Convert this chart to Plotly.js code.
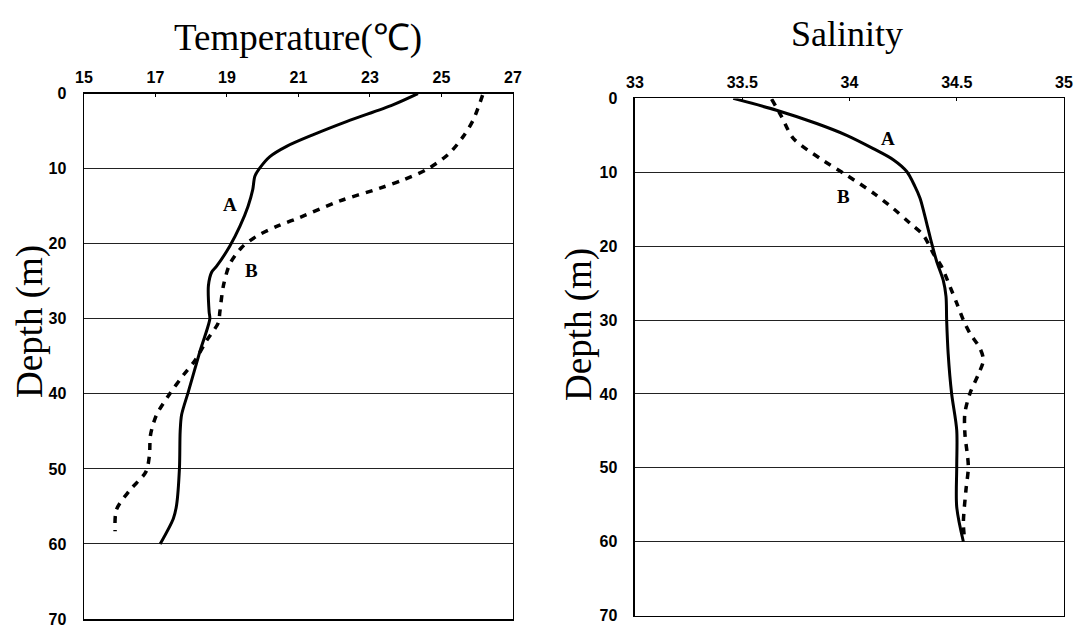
<!DOCTYPE html>
<html>
<head>
<meta charset="utf-8">
<script src="https://cdn.plot.ly/plotly-3.0.1.min.js"></script>
<style>html,body{margin:0;padding:0;background:#fff}#chart{width:1077px;height:628px}</style>
</head>
<body>
<div id="chart"></div>
<script>
// Temperature profiles
const depthTA = [0, 1.5, 3.7, 5.5, 7.0, 8.4, 9.9, 11, 12.8, 15, 17.7, 20.3, 23, 23.8, 25.6, 29.1, 30, 34.4, 39.7, 42.8, 45, 49.9, 54.8, 56.6, 60];
const tempA = [24.34, 23.64, 22.36, 21.4, 20.68, 20.2, 19.92, 19.78, 19.72, 19.59, 19.36, 19.08, 18.71, 18.57, 18.48, 18.5, 18.52, 18.24, 17.92, 17.73, 17.69, 17.67, 17.59, 17.5, 17.13];
const depthTB = [0.2, 3.5, 5.7, 8.1, 10.1, 11.5, 12.6, 14.3, 16.5, 17.7, 19, 20.5, 22.7, 25.6, 29.1, 30.5, 32.9, 35.6, 37.5, 40, 42.8, 45.5, 48.2, 50.4, 52.8, 55.4, 58.3];
const tempB = [26.15, 25.89, 25.61, 25.19, 24.59, 23.93, 23.28, 22.16, 21.04, 20.39, 19.83, 19.41, 19.08, 18.9, 18.8, 18.76, 18.43, 18.1, 17.78, 17.4, 17.03, 16.86, 16.83, 16.73, 16.29, 15.91, 15.87];
// Salinity profiles
const depthSA = [0, 1.6, 3.4, 5, 6.8, 8.3, 9.9, 11.9, 13.5, 16.9, 19.6, 22.1, 24.6, 26.8, 30, 34.5, 39.9, 44.9, 49.8, 55.3, 60];
const salA = [33.458, 33.66, 33.847, 33.987, 34.111, 34.204, 34.267, 34.305, 34.329, 34.36, 34.383, 34.407, 34.437, 34.45, 34.453, 34.46, 34.476, 34.5, 34.5, 34.5, 34.531];
const depthSB = [0.1, 2.5, 5.4, 8.1, 10.4, 12.8, 14.9, 16.9, 18.5, 21, 22.8, 25.5, 27.7, 30, 31.8, 33.8, 35.4, 37.4, 39.9, 42.6, 45.3, 49.8, 53, 57.5, 60];
const salB = [33.637, 33.684, 33.738, 33.862, 33.987, 34.111, 34.204, 34.282, 34.344, 34.391, 34.43, 34.469, 34.5, 34.531, 34.562, 34.608, 34.624, 34.6, 34.562, 34.538, 34.538, 34.554, 34.543, 34.531, 34.538];

const tempTicks = [15, 17, 19, 21, 23, 25, 27];
const salTicks = [33, 33.5, 34, 34.5, 35];
const depthTicks = [0, 10, 20, 30, 40, 50, 60, 70];
const tempTickText = ["15", "17", "19", "21", "23", "25", "27"];
const salTickText = ["33", "33.5", "34", "34.5", "35"];

const titles = ["Temperature(℃)", "Salinity"];
const yTitle = "Depth (m)";
const seriesNames = ["A", "B"];

const solid = {color: '#000', width: 3, shape: 'spline', smoothing: 0.85};
const dashed = {color: '#000', width: 3.5, dash: '7px,7px', shape: 'spline', smoothing: 0.85};

const traces = [
  {x: tempA, y: depthTA, mode: 'lines', line: solid, xaxis: 'x', yaxis: 'y', name: seriesNames[0]},
  {x: tempB, y: depthTB, mode: 'lines', line: dashed, xaxis: 'x', yaxis: 'y', name: seriesNames[1]},
  {x: salA, y: depthSA, mode: 'lines', line: solid, xaxis: 'x2', yaxis: 'y2', name: seriesNames[0]},
  {x: salB, y: depthSB, mode: 'lines', line: dashed, xaxis: 'x2', yaxis: 'y2', name: seriesNames[1]}
];

const tickFont = {family: 'Liberation Sans, Arial, sans-serif', size: 16, color: '#000', weight: 'bold'};
const serif = 'Liberation Serif, Times New Roman, serif';

function xAx(ticks, text, range, domain, anchor) {
  return {
    domain: domain, range: range, anchor: anchor, side: 'top',
    tickmode: 'array', tickvals: ticks, ticktext: text,
    ticks: 'inside', ticklen: 3, tickcolor: '#000',
    showgrid: false, zeroline: false,
    showline: true, linecolor: '#000', linewidth: 1.5, mirror: true,
    tickfont: tickFont, ticklabelstandoff: 3, fixedrange: true
  };
}
function yAx(domain, anchor) {
  return {
    domain: domain, range: [70, 0], anchor: anchor,
    tickmode: 'array', tickvals: depthTicks,
    ticks: '', showgrid: true, gridcolor: '#222', gridwidth: 1,
    zeroline: false, showline: true, linecolor: '#000', linewidth: 1.5, mirror: true,
    tickfont: tickFont, ticklabelstandoff: 13, fixedrange: true
  };
}

const layout = {
  width: 1077, height: 628,
  margin: {l: 0, r: 0, t: 0, b: 0},
  paper_bgcolor: '#fff', plot_bgcolor: '#fff',
  showlegend: false,
  xaxis: xAx(tempTicks, tempTickText, [15, 27], [0.0780, 0.4763], 'y'),
  yaxis: yAx([0.0143, 0.8510], 'x'),
  xaxis2: xAx(salTicks, salTickText, [33, 35], [0.5896, 0.9879], 'y2'),
  yaxis2: yAx([0.0197, 0.8433], 'x2'),
  annotations: [
    {text: titles[0], xref: 'paper', yref: 'paper', x: 298 / 1077, y: 1 - 38 / 628, xanchor: 'center', yanchor: 'middle', showarrow: false, font: {family: serif, size: 37, color: '#000'}},
    {text: titles[1], xref: 'paper', yref: 'paper', x: 847 / 1077, y: 1 - 34 / 628, xanchor: 'center', yanchor: 'middle', showarrow: false, font: {family: serif, size: 36, color: '#000'}},
    {text: yTitle, xref: 'paper', yref: 'paper', x: 30 / 1077, y: 1 - 322 / 628, xanchor: 'center', yanchor: 'middle', textangle: -90, showarrow: false, font: {family: serif, size: 37, color: '#000'}},
    {text: yTitle, xref: 'paper', yref: 'paper', x: 579 / 1077, y: 1 - 325 / 628, xanchor: 'center', yanchor: 'middle', textangle: -90, showarrow: false, font: {family: serif, size: 37, color: '#000'}},
    {text: '<b>' + seriesNames[0] + '</b>', xref: 'x', yref: 'y', x: 19.08, y: 14.8, showarrow: false, font: {family: serif, size: 19, color: '#000'}},
    {text: '<b>' + seriesNames[1] + '</b>', xref: 'x', yref: 'y', x: 19.69, y: 23.6, showarrow: false, font: {family: serif, size: 19, color: '#000'}},
    {text: '<b>' + seriesNames[0] + '</b>', xref: 'x2', yref: 'y2', x: 34.18, y: 5.4, showarrow: false, font: {family: serif, size: 19, color: '#000'}},
    {text: '<b>' + seriesNames[1] + '</b>', xref: 'x2', yref: 'y2', x: 33.97, y: 13.3, showarrow: false, font: {family: serif, size: 19, color: '#000'}}
  ]
};

Plotly.newPlot('chart', traces, layout, {staticPlot: true, displayModeBar: false});
</script>
</body>
</html>
